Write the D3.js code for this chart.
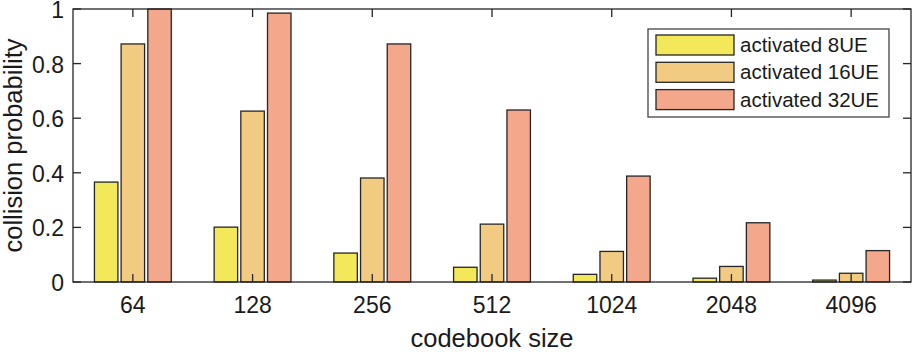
<!DOCTYPE html>
<html>
<head>
<meta charset="utf-8">
<script src="https://cdn.jsdelivr.net/npm/d3@7"></script>
<style>
  html, body { margin: 0; padding: 0; background: #fff; }
  svg { display: block; font-family: "Liberation Sans", Arial, sans-serif; }
</style>
</head>
<body>
<svg id="chart" width="915" height="354"></svg>
<script>
// ---- data ----
const categories = ["64", "128", "256", "512", "1024", "2048", "4096"];
const seriesNames = ["activated 8UE", "activated 16UE", "activated 32UE"];
const ue8  = [0.366, 0.201, 0.106, 0.054, 0.028, 0.014, 0.007];
const ue16 = [0.872, 0.626, 0.381, 0.212, 0.112, 0.057, 0.032];
const ue32 = [1.000, 0.985, 0.872, 0.630, 0.388, 0.217, 0.115];
const yTicks = [0, 0.2, 0.4, 0.6, 0.8, 1];
const yTickLabels = ["0", "0.2", "0.4", "0.6", "0.8", "1"];
const colors = ["#f3e85a", "#f2cb82", "#f3a78b"];

const seriesValues = [ue8, ue16, ue32];

// ---- layout ----
const svg = d3.select("#chart");
const L = 73, R = 911, T = 9, B = 282;
const ink = "#1a1a1a";

const x0 = d3.scaleBand().domain(categories).range([L, R])
  .paddingInner(0.358).paddingOuter(0.179);
const x1 = d3.scaleBand().domain(seriesNames).range([0, x0.bandwidth()])
  .paddingInner(0.12).paddingOuter(0);
const y = d3.scaleLinear().domain([0, 1]).range([B, T]);

// bars
const groups = svg.append("g").selectAll("g")
  .data(categories).join("g")
  .attr("transform", c => `translate(${x0(c)},0)`);

groups.selectAll("rect")
  .data((c, ci) => seriesNames.map((s, si) => ({ s, si, v: seriesValues[si][ci] })))
  .join("rect")
  .attr("x", d => x1(d.s))
  .attr("width", x1.bandwidth())
  .attr("y", d => y(d.v))
  .attr("height", d => B - y(d.v))
  .attr("fill", d => colors[d.si])
  .attr("stroke", "#262626")
  .attr("stroke-width", 1.3);

// axes (MATLAB-style, inward ticks, box)
const tickLen = 8;
const axG = svg.append("g").attr("stroke", "#262626").attr("stroke-width", 1.3).attr("fill", "none");
axG.append("rect").attr("x", L).attr("y", T).attr("width", R - L).attr("height", B - T);

const xc = c => x0(c) + x0.bandwidth() / 2;
categories.forEach(c => {
  axG.append("line").attr("x1", xc(c)).attr("x2", xc(c)).attr("y1", B).attr("y2", B - tickLen);
  axG.append("line").attr("x1", xc(c)).attr("x2", xc(c)).attr("y1", T).attr("y2", T + tickLen);
});
yTicks.forEach(t => {
  axG.append("line").attr("x1", L).attr("x2", L + tickLen).attr("y1", y(t)).attr("y2", y(t));
  axG.append("line").attr("x1", R).attr("x2", R - tickLen).attr("y1", y(t)).attr("y2", y(t));
});

// tick labels
svg.append("g").selectAll("text").data(categories).join("text")
  .attr("x", c => xc(c)).attr("y", 313)
  .attr("text-anchor", "middle")
  .attr("font-size", 23).attr("fill", ink)
  .text(c => c);

svg.append("g").selectAll("text").data(yTicks).join("text")
  .attr("x", 64).attr("y", t => y(t) + 9)
  .attr("text-anchor", "end")
  .attr("font-size", 23).attr("fill", ink)
  .text((t, i) => yTickLabels[i]);

// axis labels
svg.append("text")
  .attr("x", (L + R) / 2).attr("y", 347)
  .attr("text-anchor", "middle")
  .attr("font-size", 25.5).attr("fill", ink)
  .text("codebook size");

svg.append("text")
  .attr("transform", `translate(22,${(T + B) / 2}) rotate(-90)`)
  .attr("text-anchor", "middle")
  .attr("font-size", 25.5).attr("fill", ink)
  .text("collision probability");

// legend
const lg = svg.append("g");
lg.append("rect").attr("x", 648).attr("y", 29).attr("width", 241).attr("height", 88)
  .attr("fill", "#fff").attr("stroke", "#444").attr("stroke-width", 1.3);
seriesNames.forEach((s, i) => {
  const yy = 35 + i * 27.3;
  lg.append("rect").attr("x", 656).attr("y", yy).attr("width", 78).attr("height", 20)
    .attr("fill", colors[i]).attr("stroke", "#262626").attr("stroke-width", 1.3);
  lg.append("text").attr("x", 740).attr("y", yy + 17)
    .attr("font-size", 20.5).attr("fill", ink).text(s);
});
</script>
</body>
</html>
